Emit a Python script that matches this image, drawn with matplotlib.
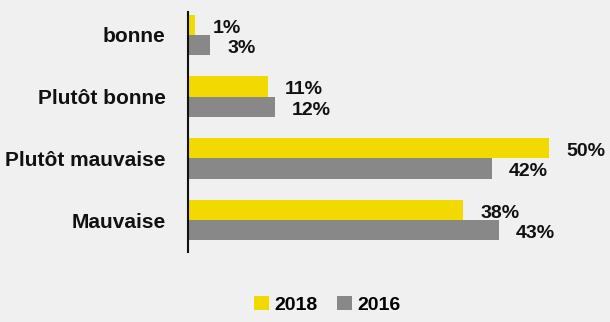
import matplotlib
matplotlib.use("Agg")
import matplotlib.pyplot as plt
import numpy as np

categories = ["bonne", "Plutôt bonne", "Plutôt mauvaise", "Mauvaise"]
values_2018 = [1, 11, 50, 38]
values_2016 = [3, 12, 42, 43]
series_labels = ["2018", "2016"]
colors = ["#f2d900", "#888888"]

plt.rcParams["font.family"] = ["Liberation Sans", "DejaVu Sans"]

bg = "#f0f0f0"
fig = plt.figure(figsize=(6.10, 3.22), dpi=100, facecolor=bg)
ax = fig.add_axes([188 / 610, 70 / 322, 412 / 610, 240 / 322], facecolor=bg)

y = np.arange(len(categories))
h = 0.33
ax.barh(y - h / 2, values_2018, height=h, color=colors[0], label=series_labels[0])
ax.barh(y + h / 2, values_2016, height=h, color=colors[1], label=series_labels[1])

# value labels sit a little right of each bar end
for offs, vals in ((-h / 2, values_2018), (h / 2, values_2016)):
    for yi, v in zip(y, vals):
        ax.annotate(f"{v}%", (v, yi + offs), xytext=(12.5, -2.5), textcoords="offset points",
                    ha="left", va="center", fontsize=14, fontweight="bold", color="#111111")

ax.set_xlim(0, 57)
ax.set_ylim(3 + 32 / 61.7, -23 / 61.7)
ax.set_yticks(y)
ax.set_yticklabels(categories, fontsize=15, fontweight="bold", color="#111111")
ax.tick_params(axis="y", length=0, pad=16)
ax.set_xticks([])
for s in ["top", "right", "bottom"]:
    ax.spines[s].set_visible(False)
ax.spines["left"].set_linewidth(1.5)
ax.spines["left"].set_color("#111111")

fig.legend(loc="center", bbox_to_anchor=(327.5 / 610, 17 / 322), ncol=2, frameon=False,
           prop={"weight": "bold", "size": 14},
           handlelength=0.75, handleheight=0.75, handletextpad=0.3, columnspacing=1.0)

fig.savefig("out.png", dpi=100, facecolor=bg)
